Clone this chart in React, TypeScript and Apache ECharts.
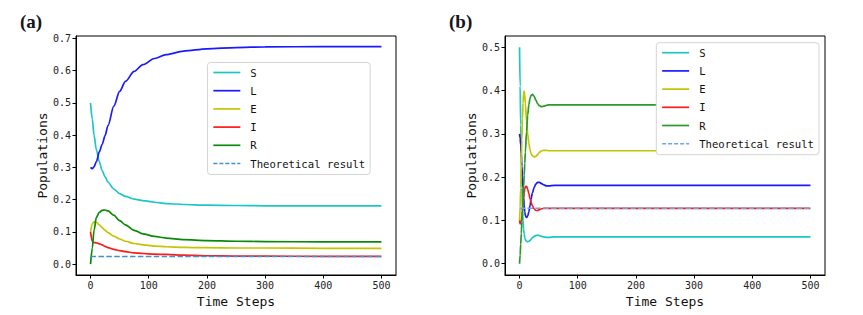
import React, { useEffect, useRef } from 'react';
import * as echarts from 'echarts';

// ---------- Panel (a) ----------
const timeA = [0, 3, 6, 10, 15, 20, 25, 30, 40, 50, 60, 75, 90, 110, 130, 160, 200, 250, 300, 400, 500];
const sA = [0.5, 0.45, 0.4, 0.355, 0.318, 0.29, 0.271, 0.254, 0.233, 0.219, 0.21, 0.202, 0.197, 0.192, 0.188, 0.185, 0.183, 0.182, 0.181, 0.181, 0.181];
const lA = [0.3, 0.296, 0.302, 0.318, 0.348, 0.372, 0.399, 0.43, 0.49, 0.536, 0.567, 0.598, 0.619, 0.638, 0.65, 0.661, 0.668, 0.672, 0.674, 0.675, 0.675];
const eA = [0.1, 0.125, 0.131, 0.13, 0.122, 0.113, 0.105, 0.098, 0.087, 0.078, 0.071, 0.064, 0.06, 0.056, 0.054, 0.052, 0.051, 0.05, 0.05, 0.049, 0.049];
const iA = [0.1, 0.071, 0.067, 0.066, 0.063, 0.06, 0.055, 0.051, 0.046, 0.042, 0.039, 0.035, 0.033, 0.031, 0.03, 0.028, 0.026, 0.025, 0.025, 0.024, 0.024];
const rA = [0, 0.05, 0.105, 0.145, 0.161, 0.167, 0.168, 0.165, 0.152, 0.135, 0.122, 0.105, 0.094, 0.086, 0.081, 0.076, 0.073, 0.071, 0.07, 0.069, 0.069];
const thA = [0.024, 0.024, 0.024, 0.024, 0.024, 0.024, 0.024, 0.024, 0.024, 0.024, 0.024, 0.024, 0.024, 0.024, 0.024, 0.024, 0.024, 0.024, 0.024, 0.024, 0.024];

// ---------- Panel (b) ----------
const timeB = [0, 1, 2, 3, 4, 5, 6, 7, 8, 9, 10, 12, 14, 16, 18, 20, 22, 25, 28, 31, 34, 38, 42, 46, 50, 60, 80, 100, 150, 200, 300, 400, 500];
const sB = [0.5, 0.41, 0.32, 0.24, 0.175, 0.13, 0.1, 0.08, 0.068, 0.06, 0.056, 0.052, 0.051, 0.052, 0.054, 0.057, 0.06, 0.063, 0.065, 0.066, 0.065, 0.063, 0.062, 0.061, 0.061, 0.062, 0.062, 0.062, 0.062, 0.062, 0.062, 0.062, 0.062];
const lB = [0.3, 0.29, 0.275, 0.255, 0.225, 0.2, 0.175, 0.153, 0.134, 0.12, 0.111, 0.107, 0.11, 0.12, 0.135, 0.15, 0.163, 0.176, 0.184, 0.188, 0.188, 0.185, 0.182, 0.18, 0.18, 0.181, 0.181, 0.181, 0.181, 0.181, 0.181, 0.181, 0.181];
const eB = [0.1, 0.13, 0.175, 0.23, 0.285, 0.335, 0.372, 0.393, 0.399, 0.39, 0.37, 0.33, 0.3, 0.278, 0.263, 0.254, 0.249, 0.247, 0.248, 0.252, 0.257, 0.261, 0.262, 0.262, 0.261, 0.261, 0.261, 0.261, 0.261, 0.261, 0.261, 0.261, 0.261];
const iB = [0.1, 0.092, 0.092, 0.098, 0.108, 0.122, 0.137, 0.152, 0.164, 0.173, 0.178, 0.179, 0.172, 0.162, 0.151, 0.141, 0.134, 0.127, 0.123, 0.123, 0.125, 0.127, 0.128, 0.128, 0.128, 0.128, 0.128, 0.128, 0.128, 0.128, 0.128, 0.128, 0.128];
const rB = [0, 0.02, 0.045, 0.07, 0.097, 0.123, 0.15, 0.178, 0.205, 0.232, 0.258, 0.305, 0.343, 0.367, 0.382, 0.389, 0.391, 0.387, 0.378, 0.37, 0.365, 0.363, 0.364, 0.366, 0.367, 0.367, 0.367, 0.367, 0.367, 0.367, 0.367, 0.367, 0.367];
const thB = [0.128, 0.128, 0.128, 0.128, 0.128, 0.128, 0.128, 0.128, 0.128, 0.128, 0.128, 0.128, 0.128, 0.128, 0.128, 0.128, 0.128, 0.128, 0.128, 0.128, 0.128, 0.128, 0.128, 0.128, 0.128, 0.128, 0.128, 0.128, 0.128, 0.128, 0.128, 0.128, 0.128];

const seriesNames = ['S', 'L', 'E', 'I', 'R', 'Theoretical result'];
const xTicks = [0, 100, 200, 300, 400, 500];
const yTicksA = [0, 0.1, 0.2, 0.3, 0.4, 0.5, 0.6, 0.7];
const yTicksB = [0, 0.1, 0.2, 0.3, 0.4, 0.5];
const panelTitles = ['(a)', '(b)'];

const colorsA = ['#1cc6c6', '#1a1aff', '#c4c400', '#ff1a1a', '#0a8a0a', '#3f8fd2'];
const colorsB = ['#1cc6c6', '#1a1aff', '#c4c400', '#ff1a1a', '#2a9a2a', '#6aa6e0'];

const mono = '"DejaVu Sans Mono", monospace';

function buildAxes(gridIndex: number, yMin: number, yMax: number, yTicks: number[]) {
  const xAxis = {
    type: 'value',
    gridIndex,
    min: -25,
    max: 525,
    axisLine: { show: true, onZero: false, lineStyle: { color: '#000', width: 1 } },
    axisTick: { show: true, inside: false, length: 3.5, customValues: xTicks, lineStyle: { color: '#000', width: 1 } },
    axisLabel: { customValues: xTicks, fontFamily: mono, fontSize: 10, color: '#222', margin: 5 },
    splitLine: { show: false },
    name: 'Time Steps',
    nameLocation: 'middle',
    nameGap: 12,
    nameTextStyle: { fontFamily: mono, fontSize: 13, color: '#111' },
  };
  const yAxis = {
    type: 'value',
    gridIndex,
    min: yMin,
    max: yMax,
    axisLine: { show: true, onZero: false, lineStyle: { color: '#000', width: 1 } },
    axisTick: { show: true, inside: false, length: 3.5, customValues: yTicks, lineStyle: { color: '#000', width: 1 } },
    axisLabel: {
      customValues: yTicks,
      fontFamily: mono,
      fontSize: 10,
      color: '#222',
      margin: 5,
      formatter: (v: number) => v.toFixed(1),
    },
    splitLine: { show: false },
    name: 'Populations',
    nameLocation: 'middle',
    nameGap: 25,
    nameTextStyle: { fontFamily: mono, fontSize: 13, color: '#111' },
  };
  return { xAxis, yAxis };
}

function buildSeries(idx: number, times: number[], arrs: number[][], colors: string[], smooth: number) {
  return arrs.map((arr, k) => ({
    type: 'line',
    name: seriesNames[k],
    xAxisIndex: idx,
    yAxisIndex: idx,
    data: times.map((t, i) => [t, arr[i]]),
    showSymbol: false,
    symbol: 'none',
    smooth,
    smoothMonotone: 'x',
    z: 2 + k * 0.01,
    lineStyle: {
      color: colors[k],
      width: k === 5 ? 1.5 : 1.7,
      type: k === 5 ? [5.5, 2.4] : 'solid',
    },
    itemStyle: { color: colors[k] },
  }));
}

function buildLegend(left: number, top: number, colors: string[]) {
  return {
    orient: 'vertical',
    left,
    top,
    padding: [4.5, 5, 5.5, 5],
    itemWidth: 27,
    itemHeight: 10,
    itemGap: 7.2,
    backgroundColor: '#fff',
    borderColor: '#d4d4d4',
    borderWidth: 1,
    borderRadius: 3,
    selectedMode: false,
    textStyle: { fontFamily: mono, fontSize: 10.6, color: '#111', padding: [0, 0, 0, 5] },
    itemStyle: { opacity: 0 },
    data: seriesNames.map((n, k) => ({
      name: n,
      itemStyle: { color: colors[k], opacity: 0 },
      lineStyle: { color: colors[k], width: k === 5 ? 1.5 : 1.7, type: k === 5 ? [4, 2] : 'solid', opacity: 1 },
    })),
    z: 10,
  };
}

export default function App() {
  const ref = useRef<HTMLDivElement>(null);
  useEffect(() => {
    document.body.style.margin = '0';
    const chart = echarts.init(ref.current!, null, { renderer: 'svg' });
    const a = buildAxes(0, -0.0337, 0.7078, yTicksA);
    const b = buildAxes(1, -0.026, 0.526, yTicksB);
    const option: any = {
      animation: false,
      backgroundColor: '#fff',
      grid: [
        { left: 76, top: 36, width: 320, height: 239, show: true, borderColor: '#000', borderWidth: 1, backgroundColor: 'transparent' },
        { left: 505, top: 36, width: 320, height: 239, show: true, borderColor: '#000', borderWidth: 1, backgroundColor: 'transparent' },
      ],
      xAxis: [a.xAxis, b.xAxis],
      yAxis: [a.yAxis, b.yAxis],
      legend: [buildLegend(207.5, 62.5, colorsA), buildLegend(656.3, 42.7, colorsB)],
      series: [
        ...buildSeries(0, timeA, [sA, lA, eA, iA, rA, thA], colorsA, 0.3),
        ...buildSeries(1, timeB, [sB, lB, eB, iB, rB, thB], colorsB, 0.3),
      ],
      graphic: [
        { type: 'text', left: 20, top: 12, style: { text: panelTitles[0], font: 'bold 19px "Liberation Serif", serif', fill: '#151520' } },
        { type: 'text', left: 449, top: 12, style: { text: panelTitles[1], font: 'bold 19px "Liberation Serif", serif', fill: '#151520' } },
      ],
    };
    chart.setOption(option);
    return () => chart.dispose();
  }, []);
  return <div ref={ref} style={{ width: 863, height: 315 }} />;
}
